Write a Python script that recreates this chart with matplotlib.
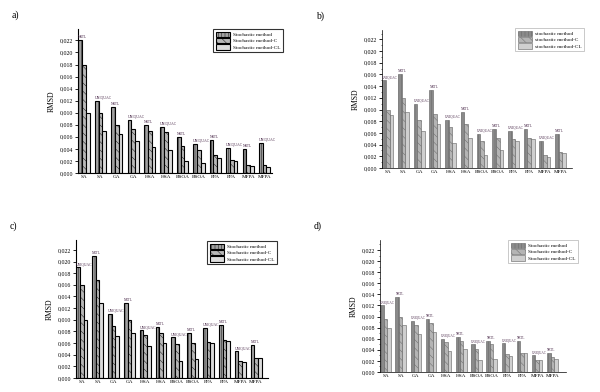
import matplotlib
matplotlib.use('Agg')
from matplotlib import pyplot as plt
from matplotlib.ticker import FuncFormatter, MultipleLocator
import numpy as np

# kategorie na osi X
groups = ['SA', 'SA', 'GA', 'GA', 'HSA', 'HSA', 'BSOA', 'BSOA', 'FPA', 'FPA', 'MFPA', 'MFPA']
models_a = ['NRTL', 'UNIQUAC'] * 6
models_bcd = ['UNIQUAC', 'NRTL'] * 6

# a)
a_s = [0.022, 0.012, 0.011, 0.0088, 0.008, 0.0077, 0.006, 0.0048, 0.0055, 0.0042, 0.004, 0.005]
a_c = [0.018, 0.010, 0.008, 0.0073, 0.0069, 0.0068, 0.0044, 0.0038, 0.003, 0.0021, 0.0014, 0.0014]
a_cl = [0.010, 0.0069, 0.0065, 0.0053, 0.0043, 0.0039, 0.002, 0.0017, 0.0025, 0.002, 0.0011, 0.001]
# b)
b_s = [0.015, 0.016, 0.011, 0.0133, 0.0082, 0.0096, 0.0058, 0.0067, 0.0063, 0.0066, 0.0046, 0.0058]
b_c = [0.010, 0.012, 0.0082, 0.0093, 0.007, 0.0075, 0.0046, 0.0051, 0.0049, 0.0051, 0.0022, 0.0027]
b_cl = [0.009, 0.0095, 0.0063, 0.0076, 0.0042, 0.0051, 0.0022, 0.003, 0.0046, 0.0049, 0.0018, 0.0026]
# c)
c_s = [0.019, 0.021, 0.011, 0.0128, 0.0082, 0.0088, 0.007, 0.0077, 0.0086, 0.0091, 0.0046, 0.0056]
c_c = [0.016, 0.0168, 0.009, 0.010, 0.0074, 0.0078, 0.0058, 0.006, 0.0062, 0.0066, 0.003, 0.0035]
c_cl = [0.010, 0.0128, 0.0072, 0.0078, 0.0055, 0.006, 0.003, 0.0033, 0.006, 0.0063, 0.0027, 0.0034]
# d)
d_s = [0.012, 0.0135, 0.0092, 0.0095, 0.006, 0.0063, 0.005, 0.0055, 0.0052, 0.0055, 0.003, 0.0034]
d_c = [0.0095, 0.010, 0.0084, 0.0089, 0.0054, 0.0056, 0.0042, 0.005, 0.0032, 0.0035, 0.0022, 0.0027]
d_cl = [0.008, 0.0085, 0.0069, 0.0072, 0.0038, 0.0042, 0.0021, 0.0024, 0.0029, 0.0034, 0.0021, 0.0024]

labels_upper = ['Stochastic method', 'Stochastic method-C', 'Stochastic method-CL']
labels_lower = ['stochastic method', 'stochastic method-C', 'stochastic method-CL']

plt.rcParams['font.family'] = 'Liberation Serif'
plt.rcParams['hatch.linewidth'] = 0.3

fig = plt.figure(figsize=(6, 3.92), dpi=100)
W, H = 600, 392


def panel(tag, box, vals, models, labels, ymax, xmax, dark, leg_box, ann_size):
    left, top, right, bottom = box
    ax = fig.add_axes([left / W, 1 - bottom / H, (right - left) / W, (bottom - top) / H])
    x = np.arange(len(groups))
    w = 0.23
    if dark:
        ec, lw = 'black', 0.8
        styles = [('#a0a0a0', '|||||'), ('#b8b8b8', '\\\\\\\\'), ('#dcdcdc', '')]
    else:
        ec, lw = '#606060', 0.4
        styles = [('#8a8a8a', '|||||'), ('#b4b4b4', '\\\\\\\\'), ('#cfcfcf', '')]
    for j, (v, (fc, h)) in enumerate(zip(vals, styles)):
        ax.bar(x + (j - 1) * w, v, w, color=fc, edgecolor=ec, linewidth=lw,
               hatch=h, label=labels[j])
    # etykiety modeli nad grupami
    for i in range(len(groups)):
        top_v = max(vals[0][i], vals[1][i], vals[2][i])
        ax.text(x[i] - 1.5 * w, top_v + 0.0002, models[i], fontsize=ann_size,
                color='#4a2a4a', ha='left', va='bottom')
    ax.set_xlim(-1.5 * w - 0.02, xmax)
    ax.set_ylim(0, ymax)
    ax.set_xticks(x)
    ax.set_xticklabels(groups, fontsize=3.8)
    ax.tick_params(axis='x', length=0, pad=1.5)
    ax.yaxis.set_major_locator(MultipleLocator(0.002))
    ax.yaxis.set_major_formatter(FuncFormatter(lambda v, p: ('%.3f' % v).replace('.', ',')))
    ax.tick_params(axis='y', labelsize=4.2, length=2, width=0.6, pad=1.5)
    if not dark:
        ax.yaxis.set_minor_locator(MultipleLocator(0.001))
        ax.tick_params(axis='y', which='minor', length=1, width=0.4)
    for s in ['top', 'right']:
        ax.spines[s].set_visible(False)
    for s in ['left', 'bottom']:
        ax.spines[s].set_linewidth(0.8 if dark else 0.5)
    ax.set_ylabel('RMSD', fontsize=5.5, labelpad=3)
    lx, ly = leg_box
    leg = ax.legend(loc='upper left', bbox_to_anchor=(lx / W, 1 - ly / H),
                    bbox_transform=fig.transFigure, fontsize=3.8, frameon=True,
                    fancybox=False, handlelength=2.8, handleheight=1.2,
                    borderpad=0.5, labelspacing=0.15, handletextpad=0.5,
                    borderaxespad=0)
    leg.get_frame().set_edgecolor('black' if dark else '#a0a0a0')
    leg.get_frame().set_linewidth(0.8 if dark else 0.5)
    fig.text((left - 66) / W, 1 - (top - 14) / H, tag, fontsize=7, ha='left', va='center')
    return ax


panel('a)', (78, 29, 272, 173), [a_s, a_c, a_cl], models_a, labels_upper, 0.0239, 11.45, True, (213, 29), 2.7)
panel('b)', (382, 30, 572, 168), [b_s, b_c, b_cl], models_bcd, labels_lower, 0.0236, 11.73, False, (515, 28), 2.5)
panel('c)', (76, 240, 268, 378), [c_s, c_c, c_cl], models_bcd, labels_upper, 0.0237, 11.75, True, (207, 241), 2.6)
panel('d)', (380, 240, 566, 372), [d_s, d_c, d_cl], models_bcd, labels_upper, 0.0238, 11.9, False, (508, 240), 2.3)

# zapisywanie wykresu
plt.savefig('out.png', dpi=100)
